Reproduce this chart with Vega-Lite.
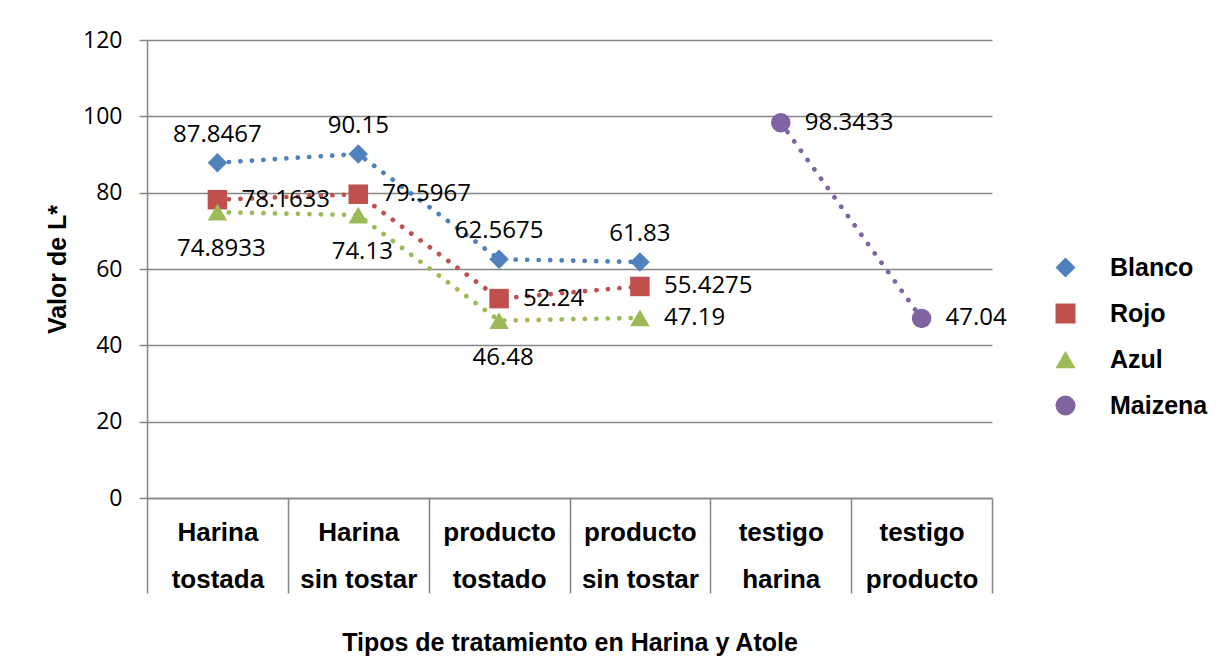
{
  "$schema": "https://vega.github.io/schema/vega-lite/v6.json",
  "width": 845,
  "height": 458,
  "autosize": {"type": "none"},
  "padding": {"left": 147, "top": 40, "right": 236, "bottom": 159},
  "background": "white",
  "config": {"view": {"stroke": null}},
  "data": {
    "values": [
      {"serie": "Blanco", "categoria": "Harina tostada", "valor": 87.8467},
      {"serie": "Blanco", "categoria": "Harina sin tostar", "valor": 90.15},
      {"serie": "Blanco", "categoria": "producto tostado", "valor": 62.5675},
      {"serie": "Blanco", "categoria": "producto sin tostar", "valor": 61.83},
      {"serie": "Rojo", "categoria": "Harina tostada", "valor": 78.1633},
      {"serie": "Rojo", "categoria": "Harina sin tostar", "valor": 79.5967},
      {"serie": "Rojo", "categoria": "producto tostado", "valor": 52.24},
      {"serie": "Rojo", "categoria": "producto sin tostar", "valor": 55.4275},
      {"serie": "Azul", "categoria": "Harina tostada", "valor": 74.8933},
      {"serie": "Azul", "categoria": "Harina sin tostar", "valor": 74.13},
      {"serie": "Azul", "categoria": "producto tostado", "valor": 46.48},
      {"serie": "Azul", "categoria": "producto sin tostar", "valor": 47.19},
      {"serie": "Maizena", "categoria": "testigo harina", "valor": 98.3433},
      {"serie": "Maizena", "categoria": "testigo producto", "valor": 47.04}
    ]
  },
  "encoding": {
    "x": {
      "field": "categoria",
      "type": "nominal",
      "sort": ["Harina tostada", "Harina sin tostar", "producto tostado", "producto sin tostar", "testigo harina", "testigo producto"],
      "scale": {"type": "band", "paddingInner": 0, "paddingOuter": 0},
      "axis": {
        "title": "Tipos de tratamiento en Harina y Atole",
        "labelAngle": 0,
        "labelExpr": "[slice(datum.label, 0, indexof(datum.label, ' ')), slice(datum.label, indexof(datum.label, ' ') + 1)]",
        "labelFont": "Liberation Sans",
        "labelFontWeight": "bold",
        "labelFontSize": 26,
        "labelColor": "black",
        "labelLineHeight": 47,
        "labelBaseline": "top",
        "labelPadding": -74,
        "labelLimit": 300,
        "labelOverlap": false,
        "tickBand": "extent",
        "tickSize": 95,
        "tickColor": "#868686",
        "tickWidth": 1.5,
        "domainColor": "#868686",
        "domainWidth": 1.5,
        "titleFont": "Liberation Sans",
        "titleFontSize": 25,
        "titleFontWeight": "bold",
        "titleColor": "black",
        "titlePadding": 37
      }
    },
    "y": {
      "field": "valor",
      "type": "quantitative",
      "scale": {"domain": [0, 120]},
      "axis": {
        "title": "Valor de L*",
        "values": [0, 20, 40, 60, 80, 100, 120],
        "grid": true,
        "gridColor": "#868686",
        "gridWidth": 1.5,
        "domainColor": "#868686",
        "domainWidth": 1.5,
        "tickColor": "#868686",
        "tickWidth": 1.5,
        "tickSize": 8,
        "labelPadding": 17,
        "labelFont": "Open Sans",
        "labelFontSize": 23,
        "labelColor": "black",
        "titleFont": "Liberation Sans",
        "titleFontSize": 25,
        "titleFontWeight": "bold",
        "titleColor": "black",
        "titlePadding": 12
      }
    },
    "color": {
      "field": "serie",
      "type": "nominal",
      "scale": {"domain": ["Blanco", "Rojo", "Azul", "Maizena"], "range": ["#4F81BD", "#C0504D", "#9BBB59", "#8064A2"]},
      "legend": {
        "orient": "none",
        "legendX": 906,
        "legendY": 215,
        "title": null,
        "padding": 0,
        "symbolSize": 400,
        "labelFont": "Liberation Sans",
        "labelFontWeight": "bold",
        "labelFontSize": 25,
        "labelColor": "black",
        "labelOffset": 32,
        "rowPadding": 20,
        "symbolStrokeWidth": 0,
        "symbolOpacity": 1
      }
    }
  },
  "layer": [
    {
      "mark": {"type": "line", "strokeDash": [0.1, 11.4], "strokeCap": "round", "strokeWidth": 4.7}
    },
    {
      "mark": {"type": "point", "filled": true, "size": 380, "opacity": 1},
      "encoding": {
        "shape": {
          "field": "serie",
          "type": "nominal",
          "scale": {"domain": ["Blanco", "Rojo", "Azul", "Maizena"], "range": ["diamond", "square", "triangle-up", "circle"]},
          "legend": null
        }
      }
    },
    {
      "transform": [{"filter": "datum.serie === 'Blanco'"}],
      "mark": {"type": "text", "dy": -28, "align": "center", "baseline": "middle", "font": "Open Sans", "fontSize": 24},
      "encoding": {"text": {"field": "valor", "type": "quantitative"}, "color": {"value": "black"}}
    },
    {
      "transform": [{"filter": "datum.serie === 'Rojo' || datum.serie === 'Maizena' || (datum.serie === 'Azul' && datum.categoria === 'producto sin tostar')"}],
      "mark": {"type": "text", "dx": 24, "align": "left", "baseline": "middle", "font": "Open Sans", "fontSize": 24},
      "encoding": {"text": {"field": "valor", "type": "quantitative"}, "color": {"value": "black"}}
    },
    {
      "transform": [{"filter": "datum.serie === 'Azul' && datum.categoria !== 'producto sin tostar'"}],
      "mark": {"type": "text", "dy": 37, "dx": 4, "align": "center", "baseline": "middle", "font": "Open Sans", "fontSize": 24},
      "encoding": {"text": {"field": "valor", "type": "quantitative"}, "color": {"value": "black"}}
    }
  ]
}
